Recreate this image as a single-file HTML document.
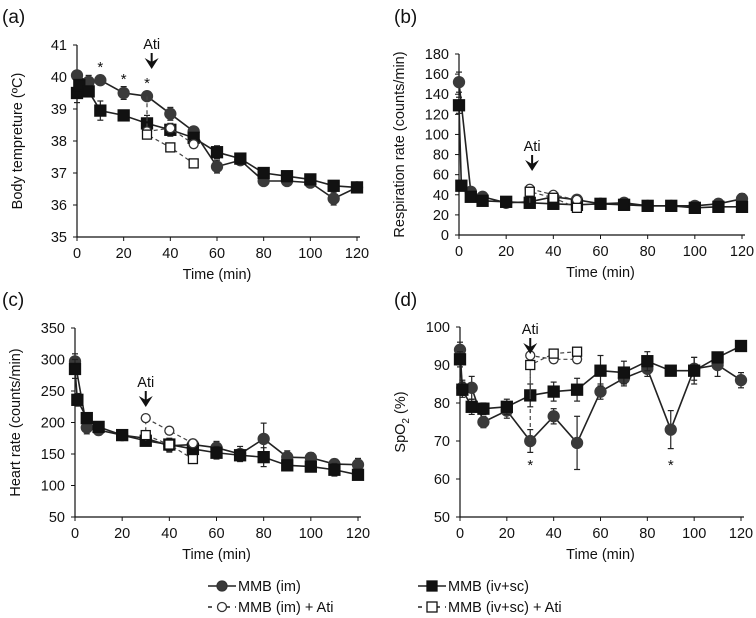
<!DOCTYPE html>
<html><head><meta charset="utf-8"><style>
body{margin:0;background:#fff;}
svg{display:block;font-family:"Liberation Sans",Arial,sans-serif;}
</style></head><body>
<svg id="fig" width="756" height="618" viewBox="0 0 756 618"></svg>
<script>
// ---- data ----
const tIm = [0,5,10,20,30,40,50,60,70,80,90,100,110,120];
const tIv = [0,1,5,10,20,30,40,50,60,70,80,90,100,110,120];
const tAti = [30,40,50];
const tIm_d = [0,1,5,10,20,30,40,50,60,70,80,90,100,110,120];

const aIm = [40.05,39.85,39.9,39.5,39.4,38.85,38.3,37.2,37.4,36.75,36.75,36.7,36.2,36.55];
const aImErr = [0.05,0.2,0.15,0.2,0.1,0.2,0.1,0.2,0.1,0.1,0.1,0.1,0.2,0.1];
const aIv = [39.5,39.75,39.55,38.95,38.8,38.55,38.35,38.1,37.65,37.45,37.0,36.9,36.8,36.6,36.55];
const aIvErr = [0.3,0.1,0.1,0.3,0.1,0.25,0.2,0.1,0.2,0.1,0.1,0.1,0.1,0.1,0.1];
const aImAti = [38.3,38.4,37.9];
const aIvAti = [38.2,37.8,37.3];

const bIm = [152,43,38,32,33,38,35,31,32,29,29,29,31,36];
const bImErr = [10,3,3,2,3,5,3,2,2,2,2,2,2,5];
const bIv = [129,49,38,34,33,32,31,30,31,30,29,29,27,28,28];
const bIvErr = [8,3,3,2,2,2,2,2,2,2,2,2,2,2,2];
const bImAti = [46,40,35];
const bIvAti = [43,37,27];

const cIm = [297,192,188,180,175,163,165,160,150,174,145,144,134,133];
const cImErr = [12,10,8,5,8,10,8,10,12,25,10,8,8,10];
const cIv = [285,236,207,193,180,171,165,158,152,148,145,132,130,125,117];
const cIvErr = [15,10,8,6,5,8,10,8,10,8,15,8,8,10,6];
const cImAti = [207,187,167];
const cIvAti = [180,165,142];

const dIm = [94,84,84,75,78,70,76.5,69.5,83,86.5,89,73,89,90,86];
const dImErr = [2,2,3,1.5,2,3,2,7,2,2,2,5,3,3,2];
const dIv = [91.5,83.5,79,78.5,79,82,83,83.5,88.5,88,91,88.5,88.5,92,95];
const dIvErr = [2,2,2,1.5,2,3,2.5,3,4,3,2.5,1,3.5,1,1];
const dImAti = [92.5,91.5,91.5];
const dIvAti = [90,93,93.5];

const NS="http://www.w3.org/2000/svg";
const svg=document.getElementById('fig');
function el(tag,attrs,parent,txt){const e=document.createElementNS(NS,tag);for(const k in attrs)e.setAttribute(k,attrs[k]);if(txt!==undefined)e.textContent=txt;(parent||svg).appendChild(e);return e;}

function panel(cfg){
  const g=el('g',{});
  
  
  const X=t=>cfg.x0+(t/120)*(cfg.x1-cfg.x0);
  const Y=v=>cfg.yb+(v-cfg.ymin)/(cfg.ymax-cfg.ymin)*(cfg.yt-cfg.yb);
  const lab=el('text',{x:cfg.lx,y:cfg.ly,'font-size':19,fill:'#111'},g,'('+cfg.id+')');
  
  
  // axes
  const ax=el('path',{d:`M${cfg.x0},${cfg.yt}V${cfg.yb}H${cfg.x1+3}`,stroke:'#111','stroke-width':1.2,fill:'none'},g);
  
  
  for(let v=cfg.ymin;v<=cfg.ymax+1e-9;v+=cfg.ystep){
    el('line',{x1:cfg.x0-4,x2:cfg.x0,y1:Y(v),y2:Y(v),stroke:'#111'},g);
    const t=el('text',{x:cfg.x0-10,y:Y(v)+5,'font-size':14.5,'text-anchor':'end',fill:'#111'},g,String(v));
    
    
  }
  for(let t=0;t<=120;t+=20){
    el('line',{x1:X(t),x2:X(t),y1:cfg.yb,y2:cfg.yb+4,stroke:'#111'},g);
    const tt=el('text',{x:X(t),y:cfg.yb+21,'font-size':14.5,'text-anchor':'middle',fill:'#111'},g,String(t));
    
    
  }
  const xt=el('text',{x:(cfg.x0+cfg.x1)/2,y:cfg.yb+42,'font-size':14.5,'text-anchor':'middle',fill:'#111'},g,'Time (min)');
  
  
  const ym=(cfg.yt+cfg.yb)/2;
  const yt=el('text',{x:cfg.x0-55,y:ym,'font-size':14.5,'text-anchor':'middle',fill:'#111',transform:`rotate(-90 ${cfg.x0-55} ${ym})`},g);
  
  
  yt.innerHTML=cfg.ytitle;
  // series
  function series(ts,vs,errs,shape,filled,dashed,name,startFrom){
    const sg=el('g',{},g);
    
    
    let pts=ts.map((t,i)=>[X(t),Y(vs[i])]);
    if(startFrom) pts=[[X(startFrom[0]),Y(startFrom[1])]].concat(pts);
    el('polyline',{points:pts.map(p=>p.join(',')).join(' '),fill:'none',stroke:filled?'#222':'#444','stroke-width':filled?1.6:1.2,'stroke-dasharray':dashed?'4,3':'none'},sg);
    ts.forEach((t,i)=>{
      const x=X(t),y=Y(vs[i]);
      if(errs){const e=errs[i];el('line',{x1:x,x2:x,y1:Y(vs[i]+e),y2:Y(vs[i]-e),stroke:'#222','stroke-width':1.2},sg);
        el('line',{x1:x-3,x2:x+3,y1:Y(vs[i]+e),y2:Y(vs[i]+e),stroke:'#222','stroke-width':1.2},sg);
        el('line',{x1:x-3,x2:x+3,y1:Y(vs[i]-e),y2:Y(vs[i]-e),stroke:'#222','stroke-width':1.2},sg);}
      let m;
      if(shape==='c') m=el('circle',{cx:x,cy:y,r:filled?5.5:4.5,fill:filled?'#3a3a3a':'#fff',stroke:filled?'#3a3a3a':'#333','stroke-width':1.3},sg);
      else m=el('rect',{x:x-(filled?5.5:4.5),y:y-(filled?5.5:4.5),width:filled?11:9,height:filled?11:9,fill:filled?'#111':'#fff',stroke:'#111','stroke-width':1.3},sg);
      
      
    });
  }
  series(cfg.tIm,cfg.im,cfg.imErr,'c',true,false,'series-mmb-im');
  series(cfg.tIv,cfg.iv,cfg.ivErr,'s',true,false,'series-mmb-ivsc');
  series(tAti,cfg.imAti,null,'c',false,true,'series-mmb-im-ati',[30,cfg.im[cfg.tIm.indexOf(30)]]);
  series(tAti,cfg.ivAti,null,'s',false,true,'series-mmb-ivsc-ati',[30,cfg.iv[cfg.tIv.indexOf(30)]]);
  // Ati arrow
  const ag=el('g',{},g);
  
  
  const axx=X(cfg.atiT);
  el('text',{x:axx,y:cfg.atiY,'font-size':14.5,'text-anchor':'middle',fill:'#111'},ag,'Ati');
  el('line',{x1:axx,x2:axx,y1:cfg.atiY+4,y2:cfg.atiY+14,stroke:'#111','stroke-width':2},ag);
  el('path',{d:`M${axx-7},${cfg.atiY+9} L${axx},${cfg.atiY+20} L${axx+7},${cfg.atiY+9} L${axx},${cfg.atiY+13}Z`,fill:'#111'},ag);
  (cfg.stars||[]).forEach(s=>{
    const st=el('text',{x:X(s[0]),y:s[1],'font-size':15,'text-anchor':'middle',fill:'#111'},g,'*');
    
    
  });
}

panel({id:'a',x0:77,x1:357,yt:45,yb:237,ymin:35,ymax:41,ystep:1,lx:2,ly:23,
  ytitle:'Body tempreture (ºC)',tIm:tIm,im:aIm,imErr:aImErr,tIv:tIv,iv:aIv,ivErr:aIvErr,
  imAti:aImAti,ivAti:aIvAti,atiT:32,atiY:49,stars:[[10,72],[20,84],[30,88]]});
panel({id:'b',x0:459,x1:742,yt:54,yb:235,ymin:0,ymax:180,ystep:20,lx:394,ly:23,
  ytitle:'Respiration rate (counts/min)',tIm:tIm,im:bIm,imErr:bImErr,tIv:tIv,iv:bIv,ivErr:bIvErr,
  imAti:bImAti,ivAti:bIvAti,atiT:31,atiY:151});
panel({id:'c',x0:75,x1:358,yt:328,yb:517,ymin:50,ymax:350,ystep:50,lx:2,ly:306,
  ytitle:'Heart rate (counts/min)',tIm:tIm,im:cIm,imErr:cImErr,tIv:tIv,iv:cIv,ivErr:cIvErr,
  imAti:cImAti,ivAti:cIvAti,atiT:30,atiY:387});
panel({id:'d',x0:460,x1:741,yt:327,yb:517,ymin:50,ymax:100,ystep:10,lx:394,ly:306,
  ytitle:'SpO<tspan font-size="10" dy="4">2</tspan><tspan dy="-4"> (%)</tspan>',tIm:tIm_d,im:dIm,imErr:dImErr,tIv:tIv,iv:dIv,ivErr:dIvErr,
  imAti:dImAti,ivAti:dIvAti,atiT:30,atiY:334,stars:[[30,470],[90,470]]});

// legend
function legendEntry(x,y,shape,filled,dashed,label,name){
  const g=el('g',{});
  
  
  el('line',{x1:x,x2:x+28,y1:y,y2:y,stroke:'#222','stroke-width':1.6,'stroke-dasharray':dashed?'4,5':'none'},g);
  if(shape==='c') el('circle',{cx:x+14,cy:y,r:filled?5:4.5,fill:filled?'#3a3a3a':'#fff',stroke:'#333','stroke-width':1.3},g);
  else el('rect',{x:x+9,y:y-5,width:10,height:10,fill:filled?'#111':'#fff',stroke:'#111','stroke-width':1.3},g);
  el('text',{x:x+30,y:y+5,'font-size':14.5,fill:'#111'},g,label);
}
legendEntry(208,586,'c',true,false,'MMB (im)','legend-mmb-im');
legendEntry(208,607,'c',false,true,'MMB (im) + Ati','legend-mmb-im-ati');
legendEntry(418,586,'s',true,false,'MMB (iv+sc)','legend-mmb-ivsc');
legendEntry(418,607,'s',false,true,'MMB (iv+sc) + Ati','legend-mmb-ivsc-ati');
</script>
</body></html>
